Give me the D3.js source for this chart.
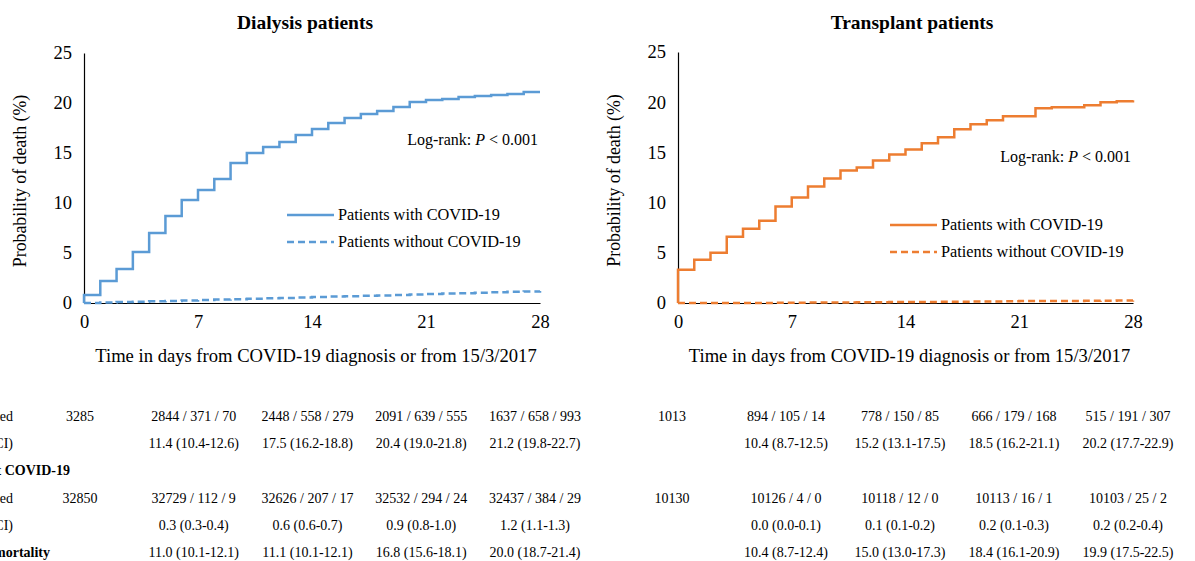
<!DOCTYPE html>
<html>
<head>
<meta charset="utf-8">
<script src="https://cdn.jsdelivr.net/npm/d3@7"></script>
<style>
  body { margin: 0; background: #fff; }
  svg { display: block; font-family: "Liberation Serif", "Times New Roman", serif; }
</style>
</head>
<body>
<div id="chart"></div>
<script>
// days since diagnosis
let days = [0,1,2,3,4,5,6,7,8,9,10,11,12,13,14,15,16,17,18,19,20,21,22,23,24,25,26,27,28];
let xTicks = [0, 7, 14, 21, 28];
let yTicks = [0, 5, 10, 15, 20, 25];

// probability of death (%), value holding from each day onward
let dialysisWith = [0.8,2.2,3.4,5.1,7.0,8.7,10.3,11.3,12.4,14.0,15.0,15.6,16.1,16.8,17.4,18.0,18.5,18.9,19.2,19.6,20.1,20.3,20.4,20.6,20.7,20.8,20.9,21.1,21.1];
let dialysisWithout = [0.0,0.05,0.1,0.13,0.17,0.2,0.25,0.3,0.34,0.38,0.42,0.47,0.51,0.55,0.6,0.64,0.68,0.72,0.76,0.8,0.85,0.9,0.94,0.98,1.02,1.07,1.12,1.16,1.2];
let transplantWith = [3.3,4.3,5.0,6.6,7.4,8.2,9.6,10.5,11.6,12.4,13.2,13.5,14.2,14.8,15.3,15.9,16.5,17.3,17.8,18.2,18.6,18.6,19.4,19.5,19.5,19.7,20.0,20.1,20.2];
let transplantWithout = [0,0,0,0,0,0.01,0.02,0.03,0.04,0.05,0.06,0.07,0.08,0.09,0.1,0.11,0.12,0.13,0.15,0.16,0.18,0.19,0.2,0.2,0.21,0.22,0.23,0.24,0.25];

let legendLabels = ['Patients with COVID-19', 'Patients without COVID-19'];

// table under the plots
let rowLabels = ['Number at risk / died / censored', 'Cumulative mortality, % (95% CI)', 'Patients without COVID-19',
  'Number at risk / died / censored', 'Cumulative mortality, % (95% CI)', 'Excess mortality'];
let rowBold = [false, false, true, false, false, true];
let dialysisTable = [
  ['3285', '2844 / 371 / 70', '2448 / 558 / 279', '2091 / 639 / 555', '1637 / 658 / 993'],
  ['', '11.4 (10.4-12.6)', '17.5 (16.2-18.8)', '20.4 (19.0-21.8)', '21.2 (19.8-22.7)'],
  ['', '', '', '', ''],
  ['32850', '32729 / 112 / 9', '32626 / 207 / 17', '32532 / 294 / 24', '32437 / 384 / 29'],
  ['', '0.3 (0.3-0.4)', '0.6 (0.6-0.7)', '0.9 (0.8-1.0)', '1.2 (1.1-1.3)'],
  ['', '11.0 (10.1-12.1)', '11.1 (10.1-12.1)', '16.8 (15.6-18.1)', '20.0 (18.7-21.4)']
];
let transplantTable = [
  ['1013', '894 / 105 / 14', '778 / 150 / 85', '666 / 179 / 168', '515 / 191 / 307'],
  ['', '10.4 (8.7-12.5)', '15.2 (13.1-17.5)', '18.5 (16.2-21.1)', '20.2 (17.7-22.9)'],
  ['', '', '', '', ''],
  ['10130', '10126 / 4 / 0', '10118 / 12 / 0', '10113 / 16 / 1', '10103 / 25 / 2'],
  ['', '0.0 (0.0-0.1)', '0.1 (0.1-0.2)', '0.2 (0.1-0.3)', '0.2 (0.2-0.4)'],
  ['', '10.4 (8.7-12.4)', '15.0 (13.0-17.3)', '18.4 (16.1-20.9)', '19.9 (17.5-22.5)']
];

let width = 1195, height = 561;
let svg = d3.select('#chart').append('svg').attr('width', width).attr('height', height);

let panels = [
  {title: 'Dialysis patients', color: '#5B9BD5', withData: dialysisWith, withoutData: dialysisWithout,
   left: 84, right: 540, top: 53, bottom: 303, titleX: 305, logY: 145, legendX: 287, legendY: 215, table: dialysisTable, colStart: 80, colEnd: 535},
  {title: 'Transplant patients', color: '#ED7D31', withData: transplantWith, withoutData: transplantWithout,
   left: 678, right: 1133, top: 52, bottom: 303, titleX: 912, logY: 162, legendX: 890, legendY: 225, table: transplantTable, colStart: 672, colEnd: 1128}
];

panels.forEach(p => {
  let g = svg.append('g');

  let xScale = d3.scaleLinear().domain([0, 28]).range([p.left, p.right]);
  let yScale = d3.scaleLinear().domain([0, 25]).range([p.bottom, p.top]);

  g.append('text').text(p.title)
    .attr('x', p.titleX).attr('y', 29)
    .attr('text-anchor', 'middle').attr('font-weight', 'bold').attr('font-size', 19.5);

  let yAxis = d3.axisLeft(yScale).tickValues(yTicks).tickSize(0).tickPadding(12);
  let xAxis = d3.axisBottom(xScale).tickValues(xTicks).tickSize(0).tickPadding(12);

  let yg = g.append('g').attr('transform', 'translate(' + [p.left, 0] + ')').call(yAxis);
  let xg = g.append('g').attr('transform', 'translate(' + [0, p.bottom] + ')').call(xAxis);
  [yg, xg].forEach(a => {
    a.select('.domain').attr('stroke', '#000').attr('stroke-width', 1.2);
    a.selectAll('text').attr('font-family', '"Liberation Serif", serif').attr('font-size', 18.5).attr('fill', '#000');
  });

  g.append('text').text('Probability of death (%)')
    .attr('transform', 'translate(' + [p.left - 58, (p.top + p.bottom) / 2 + 3] + ') rotate(-90)')
    .attr('text-anchor', 'middle').attr('font-size', 17.8);

  g.append('text').text('Time in days from COVID-19 diagnosis or from 15/3/2017')
    .attr('x', (p.left + p.right) / 2 + 4).attr('y', 362)
    .attr('text-anchor', 'middle').attr('font-size', 18.6);

  let line = d3.line()
    .x((d, i) => xScale(days[i]))
    .y(d => yScale(d))
    .curve(d3.curveStepAfter);

  // without COVID first so the solid curve sits on top
  g.append('path').datum(p.withoutData)
    .attr('d', line)
    .attr('fill', 'none').attr('stroke', p.color).attr('stroke-width', 2.5)
    .attr('stroke-dasharray', '7,4');

  let withLine = d3.line()
    .x(d => xScale(d[0]))
    .y(d => yScale(d[1]))
    .curve(d3.curveStepAfter);
  g.append('path').datum([[0, 0]].concat(p.withData.map((v, i) => [days[i], v])))
    .attr('d', withLine)
    .attr('fill', 'none').attr('stroke', p.color).attr('stroke-width', 2.5);

  let logText = g.append('text').attr('x', p.right - 2).attr('y', p.logY)
    .attr('text-anchor', 'end').attr('font-size', 16);
  logText.append('tspan').text('Log-rank: ');
  logText.append('tspan').text('P').attr('font-style', 'italic');
  logText.append('tspan').text(' < 0.001');

  legendLabels.forEach((lab, i) => {
    let ly = p.legendY + i * 27;
    g.append('line')
      .attr('x1', p.legendX).attr('x2', p.legendX + 47)
      .attr('y1', ly).attr('y2', ly)
      .attr('stroke', p.color).attr('stroke-width', 2.5)
      .attr('stroke-dasharray', i == 1 ? '7,4' : null);
    g.append('text').text(lab)
      .attr('x', p.legendX + 51).attr('y', ly + 5)
      .attr('font-size', 16.3);
  });

  let colScale = d3.scalePoint().domain(d3.range(5)).range([p.colStart, p.colEnd]);
  p.table.forEach((row, r) => {
    row.forEach((cell, c) => {
      if (cell === '') return;
      g.append('text').text(cell)
        .attr('x', colScale(c)).attr('y', 421 + r * 27.2)
        .attr('text-anchor', 'middle').attr('font-size', 14);
    });
  });
});

// row labels, cut off by the left edge as in the source figure
let labelEnds = [13, 13, 70, 13, 13, 50];
rowLabels.forEach((lab, r) => {
  svg.append('text').text(lab)
    .attr('x', labelEnds[r]).attr('y', 421 + r * 27.2)
    .attr('text-anchor', 'end').attr('font-size', 14)
    .attr('font-weight', rowBold[r] ? 'bold' : 'normal');
});
</script>
</body>
</html>
